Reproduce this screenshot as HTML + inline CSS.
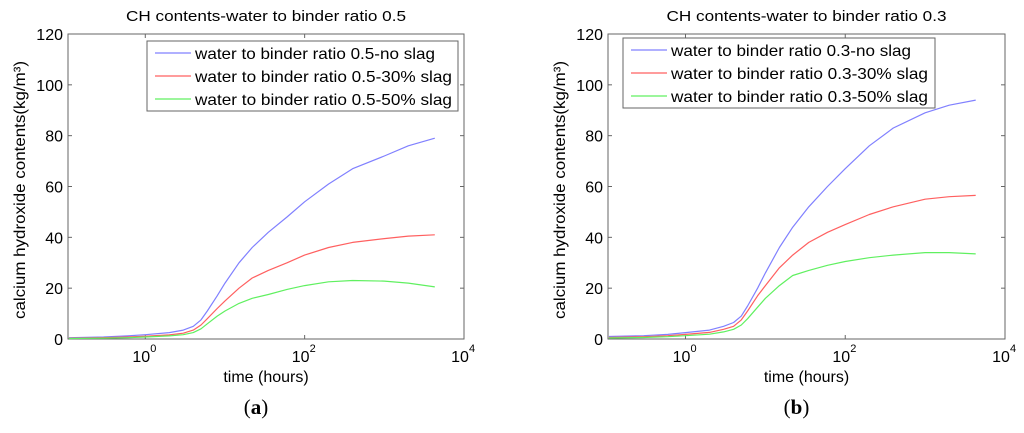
<!DOCTYPE html>
<html><head><meta charset="utf-8"><style>
body{margin:0;background:#fff;width:1024px;height:428px;overflow:hidden}
svg{font-family:"Liberation Sans",sans-serif}
</style></head><body>
<svg id="s" width="1024" height="428"></svg>
<script>
const times=[0.11,0.3,0.6,1,2,3,4,5,6,8,10,15,22,35,60,100,200,400,1000,2000,4300];
const aBlue=[0.5,0.8,1.2,1.7,2.5,3.5,5,7.5,11,17,22,30,36,42,48,54,61,67,72,76,79];
const aRed=[0.3,0.5,0.8,1.1,1.6,2.3,3.5,5.5,8,12,15,20,24,27,30,33,36,38,39.5,40.5,41];
const aGreen=[0.2,0.3,0.5,0.8,1.2,1.7,2.5,4,6,9,11,14,16,17.5,19.5,21,22.5,23,22.8,22,20.5];
const bBlue=[1,1.3,1.8,2.5,3.5,5,6.5,9,13,20,26,36,44,52,60,67,76,83,89,92,94];
const bRed=[0.6,0.9,1.3,1.8,2.6,3.8,5,7.5,11,17,21,28,33,38,42,45,49,52,55,56,56.5];
const bGreen=[0.4,0.6,0.9,1.3,1.9,2.8,3.8,5.5,8,12.5,16,21,25,27,29,30.5,32,33,34,34,33.5];
const yTicks=[0,20,40,60,80,100,120];
const xTicks=[0,2,4];
const panels=[
 {x0:68,x1:464,title:"CH contents-water to binder ratio 0.5",r:"0.5",cap:"a",series:[aBlue,aRed,aGreen],lx:147,ly:41,lw:311},
 {x0:608,x1:1005,title:"CH contents-water to binder ratio 0.3",r:"0.3",cap:"b",series:[bBlue,bRed,bGreen],lx:623,ly:38,lw:312}];
const colors=["#8080ff","#ff6060","#60f060"];
const labels=["-no slag","-30% slag","-50% slag"];
const NS="http://www.w3.org/2000/svg";const svg=document.getElementById('s');
function mk(t,a,p){const e=document.createElementNS(NS,t);for(const k in a)e.setAttribute(k,a[k]);(p||svg).appendChild(e);return e;}
const yTop=34,bot=339,lmin=-0.97,lmax=4;
panels.forEach((P,pi)=>{
 const W=P.x1-P.x0;
 const g=mk('g',{});
 
 
 const sx=t=>P.x0+(Math.log10(t)-lmin)/(lmax-lmin)*W;
 const sy=v=>bot-v/120*(bot-yTop);
 const fr=mk('rect',{x:P.x0,y:yTop,width:W,height:bot-yTop,fill:'#fff',stroke:'#666','stroke-width':1},g);
 
 yTicks.forEach(v=>{const y=sy(v);
  mk('line',{x1:P.x0,x2:P.x0+4,y1:y,y2:y,stroke:'#666'},g);mk('line',{x1:P.x1,x2:P.x1-4,y1:y,y2:y,stroke:'#666'},g);
  const t=mk('text',{x:P.x0-5,y:y+6,'text-anchor':'end','font-size':16},g);t.textContent=v;
  });
 xTicks.forEach(e=>{const x=sx(Math.pow(10,e));
  mk('line',{x1:x,x2:x,y1:bot,y2:bot-4,stroke:'#666'},g);mk('line',{x1:x,x2:x,y1:yTop,y2:yTop+4,stroke:'#666'},g);
  const t=mk('text',{x:x-4,y:362,'text-anchor':'middle','font-size':16},g);t.textContent='10';
  
  const s=mk('text',{x:x+5,y:352,'font-size':11},g);s.textContent=e;});
 const tt=mk('text',{x:P.x0+W/2,y:21,'text-anchor':'middle','font-size':15,textLength:280,lengthAdjust:'spacingAndGlyphs'},g);tt.textContent=P.title;
 
 const xl=mk('text',{x:P.x0+W/2,y:382,'text-anchor':'middle','font-size':16},g);xl.textContent='time (hours)';
 
 const yl=mk('text',{x:0,y:0,'text-anchor':'middle','font-size':16,textLength:258,lengthAdjust:'spacingAndGlyphs',transform:`translate(${P.x0-43},190) rotate(-90)`},g);
 yl.textContent='calcium hydroxide contents(kg/m³)';
 
 const cp=mk('text',{x:P.x0+W/2-10,y:414,'text-anchor':'middle','font-size':21,'font-family':'Liberation Serif'},g);
 cp.innerHTML='(<tspan font-weight="bold">'+P.cap+'</tspan>)';
 
 P.series.forEach((d,i)=>{const pts=d.map((v,j)=>sx(times[j]).toFixed(1)+','+sy(v).toFixed(1)).join(' ');
  const l=mk('polyline',{points:pts,fill:'none',stroke:colors[i],'stroke-width':1.2,'stroke-linejoin':'round'},g);
  });
 const lg=mk('g',{},g);
 mk('rect',{x:P.lx,y:P.ly,width:P.lw,height:70,fill:'#fff',stroke:'#666'},lg);
 labels.forEach((lb,i)=>{const y=P.ly+12+i*23;
  mk('line',{x1:P.lx+8,x2:P.lx+44,y1:y,y2:y,stroke:colors[i],'stroke-width':1.2},lg);
  const txt='water to binder ratio '+P.r+lb;
  const t=mk('text',{x:P.lx+48,y:y+6,'font-size':16,textLength:(i==0?240:257),lengthAdjust:'spacingAndGlyphs'},lg);t.textContent=txt;
  });
});
</script></body></html>
